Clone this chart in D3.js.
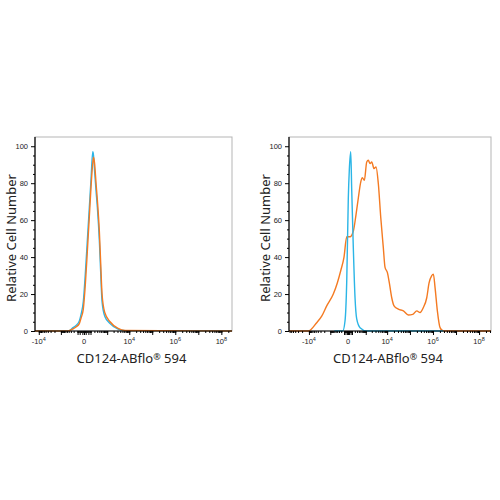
<!DOCTYPE html>
<html>
<head>
<meta charset="utf-8">
<script src="https://cdn.jsdelivr.net/npm/d3@7"></script>
<style>
  body { margin: 0; background: #fff; }
  .tick text { font-family: "Liberation Sans", Arial, sans-serif; font-size: 7.5px; fill: #222; }
  .title { font-family: "Noto Sans", "Open Sans", sans-serif; font-size: 13px; fill: #222; }
</style>
</head>
<body>
<svg width="500" height="500"></svg>
<script>
// y axis
var yTicks = [0, 20, 40, 60, 80, 100];
var yMinor = [5, 10, 15, 25, 30, 35, 45, 50, 55, 65, 70, 75, 85, 90, 95];

// x axis labels (biexponential axis)
var xLabelValues = [-1e4, 0, 1e4, 1e6, 1e8];
var xLabelBase = ["-10", "0", "10", "10", "10"];
var xLabelExp = ["4", "", "4", "6", "8"];

// left panel: isotype (blue) and antibody (orange) overlap
var leftX      = [-14660, -435, -220, -135, -66, -38, -8, 15, 43, 77, 111, 153, 174, 204, 255, 306, 398, 474, 555, 761, 1371, 3186, 6520, 2.9e8];
var leftBlue   = [0, 0, 1.8, 3, 5.4, 9, 16, 31, 49, 67, 82, 97, 95, 87, 76, 67, 49, 31, 16, 8, 4, 1, 0.2, 0];
var leftOrange = [0, 0, 1.2, 2.2, 4, 7, 12, 25, 43, 62, 78, 91, 94, 91, 80, 71, 54, 36, 20, 10, 5, 1.4, 0.3, 0];

// right panel
var rightOrangeX = [-74600, -10656, -4484, -2638, -1519, -687, -393, -220, -101, -28, 45, 143, 251, 369, 525, 652, 841, 1125, 1356, 1645, 1988, 2555, 3166, 4038, 5189, 6790, 8087, 10231, 12542, 15998, 20189, 31140, 51475, 85050, 132150, 197250, 274370, 381700, 536300, 675100, 884600, 1038000, 1230400, 1548600, 2028700, 2822000, 3.3e8];
var rightOrange  = [0, 0, 4.5, 8, 13.6, 20, 26, 32.6, 40, 51, 51, 54, 63, 72, 80.6, 83, 81.5, 91.5, 92.4, 90.6, 91.5, 87.9, 88.8, 79.7, 61.6, 45, 34.4, 31.7, 26, 18, 13.6, 11.8, 10.9, 8.7, 9, 10.9, 10, 12.7, 18, 26, 30, 30.8, 23.5, 10.9, 1.8, 0, 0];
var rightBlueX = [-600, -143, -72, -28, 6, 28, 64, 92, 143, 208, 284, 476, 1125, 2822000];
var rightBlue  = [0, 0, 5.4, 27, 72, 87, 97, 76, 45, 18, 6.5, 1.8, 0, 0];

var blueColor = "#2bb5e6", orangeColor = "#f47a22";

var svg = d3.select("svg");

function minorTicks(lo, hi) {
  var t = [];
  [10, 20, 40, 60, 80, 100].forEach(function(v) { t.push(v, -v); });
  for (var e = 2; e <= 8; e++) {
    for (var k = 1; k <= 9; k++) {
      var v = k * Math.pow(10, e);
      if (v <= hi) t.push(v);
      if (-v >= lo) t.push(-v);
    }
  }
  return t;
}

function panel(p) {
  var x = d3.scaleSymlog().constant(p.c).domain(p.domain).range([p.x0, p.x1]);
  var y = d3.scaleLinear().domain([0, 105]).range([331, 137]);

  svg.append("rect")
      .attr("x", p.x0).attr("y", 137)
      .attr("width", p.x1 - p.x0).attr("height", 331 - 137)
      .attr("fill", "none").attr("stroke", "#b5b5b5");

  var line = d3.line()
      .x(function(d) { return x(d[0]); })
      .y(function(d) { return y(d[1]); })
      .curve(d3.curveMonotoneX);

  p.series.forEach(function(s) {
    svg.append("path")
        .datum(d3.zip(s.x, s.y))
        .attr("fill", "none")
        .attr("stroke", s.color)
        .attr("stroke-width", 1.4)
        .attr("d", line);
  });

  // y axis
  svg.append("g")
      .attr("transform", "translate(" + p.x0 + ",0)")
      .call(d3.axisLeft(y).tickValues(yMinor).tickSize(2).tickFormat(""))
      .call(function(g) { g.select(".domain").remove(); });
  svg.append("g")
      .attr("transform", "translate(" + p.x0 + ",0)")
      .call(d3.axisLeft(y).tickValues(yTicks).tickSize(4).tickPadding(3))
      .call(function(g) {
        g.select(".domain").attr("d", "M0,137V331").attr("stroke-width", 1.2);
      });

  // x axis
  svg.append("g")
      .attr("transform", "translate(0,331)")
      .call(d3.axisBottom(x).tickValues(minorTicks(p.domain[0], p.domain[1])).tickSize(2).tickFormat(""))
      .call(function(g) { g.select(".domain").remove(); });
  var majors = [-1e4, -1e3, 1e3, 1e4, 1e5, 1e6, 1e7, 1e8, -100, -60, -20, 0, 20, 60, 100];
  svg.append("g")
      .attr("transform", "translate(0,331)")
      .call(d3.axisBottom(x).tickValues(majors).tickSize(4).tickFormat(""))
      .call(function(g) {
        g.select(".domain").attr("d", "M" + p.x0 + ",0H" + p.x1).attr("stroke-width", 1.2);
      });

  var lab = svg.append("g").selectAll("text")
      .data(xLabelValues)
      .join("text")
      .attr("x", function(d) { return x(d); })
      .attr("y", 344)
      .attr("text-anchor", "middle")
      .style("font-family", "Liberation Sans, Arial, sans-serif")
      .style("font-size", "7.5px")
      .attr("fill", "#222");
  lab.append("tspan").text(function(d, i) { return xLabelBase[i]; });
  lab.append("tspan")
      .attr("dy", -3.5)
      .style("font-size", "5.5px")
      .text(function(d, i) { return xLabelExp[i]; });

  var t = svg.append("text")
      .attr("class", "title")
      .attr("x", (p.x0 + p.x1) / 2 - 2)
      .attr("y", 363)
      .attr("text-anchor", "middle");
  t.append("tspan").text("CD124-ABflo");
  t.append("tspan").attr("dy", -3).style("font-size", "9px").text("®");
  t.append("tspan").attr("dy", 3).text(" 594");

  svg.append("text")
      .attr("class", "title")
      .attr("transform", "translate(" + (p.x0 - 19) + "," + 238 + ") rotate(-90)")
      .attr("text-anchor", "middle")
      .text("Relative Cell Number");
}

panel({
  x0: 35, x1: 232, c: 110, domain: [-14660, 2.9e8],
  series: [
    {x: leftX, y: leftBlue, color: blueColor},
    {x: leftX, y: leftOrange, color: orangeColor}
  ]
});

panel({
  x0: 289, x1: 491, c: 205, domain: [-74600, 3.3e8],
  series: [
    {x: rightOrangeX, y: rightOrange, color: orangeColor},
    {x: rightBlueX, y: rightBlue, color: blueColor}
  ]
});
</script>
</body>
</html>
